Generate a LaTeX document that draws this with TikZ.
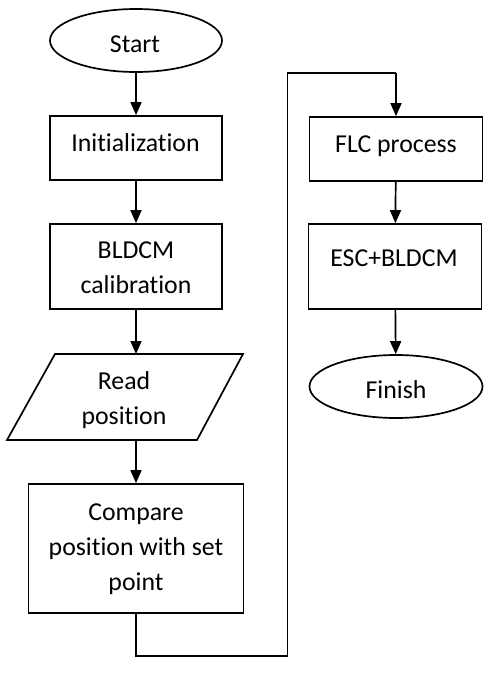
\documentclass[tikz,border=0pt]{standalone}
\usepackage{fontspec}
\setmainfont{Carlito}[Ligatures=NoCommon]
\usetikzlibrary{shapes.geometric,arrows.meta}
\tikzset{
 box/.style={draw,line width=1.7pt,rectangle,inner sep=0pt},
 oval/.style={draw,line width=1.7pt,ellipse,inner sep=0pt},
 ioshape/.style={draw,line width=1.7pt,line join=miter},
 lbl/.style={font=\fontsize{25.8}{35}\selectfont,align=center,anchor=base,inner sep=0pt},
 arr/.style={line width=1.7pt,-{Triangle[length=13pt,width=11pt]}},
 conn/.style={line width=1.7pt}
}
\begin{document}
\begin{tikzpicture}[x=1pt,y=-1pt]
\useasboundingbox (0,0) rectangle (493,675);
% shapes
\node[oval,minimum width=172pt,minimum height=63pt] (start) at (136,40.5) {};
\node[box,minimum width=172pt,minimum height=64pt] (init) at (136,148) {};
\node[box,minimum width=172pt,minimum height=85pt] (calib) at (136,266.5) {};
\coordinate (rtl) at (55,354);
\coordinate (rtr) at (243,354);
\coordinate (rbr) at (197,440);
\coordinate (rbl) at (7,440);
\draw[ioshape] (rtl) -- (rtr) -- (rbr) -- (rbl) -- cycle;
\coordinate (readin) at (136,354);
\coordinate (readout) at (136,440);
\node[box,minimum width=215pt,minimum height=129pt] (compare) at (136,548.5) {};
\node[box,minimum width=173pt,minimum height=64pt] (flc) at (396,149) {};
\node[box,minimum width=173pt,minimum height=85pt] (esc) at (395,266.5) {};
\node[oval,minimum width=173pt,minimum height=63pt] (finish) at (396,386.5) {};
% texts (anchor = baseline of last line)
\node[lbl] (tstart) at (135,52.5) {Start};
\node[lbl] (tinit) at (135.5,151.7) {Initialization};
\node[lbl] (tcalib) at (136,293.5) {BLDCM\\calibration};
\node[lbl] (tread) at (124,424.5) {Read\\position};
\node[lbl] (tcomp) at (136,590) {Compare\\position with set\\point};
\node[lbl] (tflc) at (396,152) {FLC process};
\node[lbl] (tesc) at (394,266.7) {ESC+BLDCM};
\node[lbl] (tfin) at (396,398) {Finish};
% connector corners
\coordinate (c1) at (136,656);
\coordinate (c2) at (287.5,656);
\coordinate (c3) at (287.5,73);
\coordinate (c4) at (396,73);
% connectors
\draw[arr] (start) -- (init);
\draw[arr] (init) -- (calib);
\draw[arr] (calib.south) -- (readin);
\draw[arr] (readout) -- (compare.north);
\draw[conn] (compare.south) -- (c1) -- (c2) -- (c3) -- (c4);
\draw[arr] (c4) -- (flc.north);
\draw[arr] (flc) -- (esc);
\draw[arr] (esc) -- (finish);
\end{tikzpicture}
\end{document}
